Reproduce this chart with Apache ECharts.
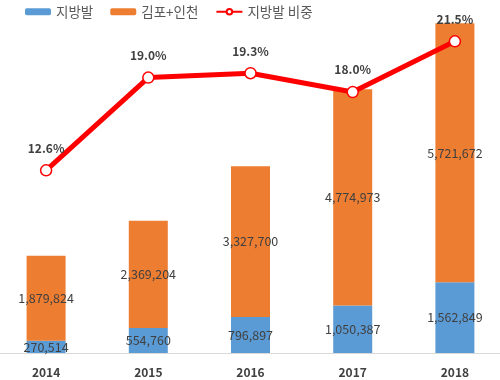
<!DOCTYPE html>
<html><head><meta charset="utf-8">
<script src="https://cdn.jsdelivr.net/npm/echarts@6/dist/echarts.min.js"></script>
<style>html,body{margin:0;padding:0;background:#fff;overflow:hidden;width:500px;height:380px;position:relative}#c{width:511px;height:380px;position:absolute;left:-5px;top:0}</style>
</head><body><div id="c"></div>
<script>
const categories = ['2014','2015','2016','2017','2018'];
const regional = [270514, 554760, 796897, 1050387, 1562849];
const gimpoIncheon = [1879824, 2369204, 3327700, 4774973, 5721672];
const regionalShare = [12.6, 19.0, 19.3, 18.0, 21.5];
const seriesNames = ['지방발', '김포+인천', '지방발 비중'];

const font = '"Malgun Gothic","Noto Sans CJK KR","Noto Sans",sans-serif';
const chart = echarts.init(document.getElementById('c'));
const fmt = v => v.toLocaleString('en-US');
chart.setOption({
  animation: false,
  textStyle: {fontFamily: font},
  legend: {
    top: 0, left: 25, itemWidth: 26, itemHeight: 7, itemGap: 17,
    textStyle: {fontSize: 13.5, color: '#595959', fontFamily: font},
    data: seriesNames
  },
  grid: {left: 0, right: 0, top: 0, bottom: 27},
  xAxis: {
    type: 'category', data: categories,
    axisLine: {lineStyle: {color: '#d9d9d9', width: 1}},
    axisTick: {show: false},
    axisLabel: {fontWeight: 'bold', fontSize: 12, color: '#404040', margin: 13, fontFamily: font}
  },
  yAxis: [
    {type: 'value', min: 0, max: 7800000, show: false, splitLine: {show: false}},
    {type: 'value', min: 0, max: 24.35, show: false, splitLine: {show: false}}
  ],
  series: [
    {
      name: seriesNames[0], type: 'bar', stack: 'a', data: regional, barWidth: 39,
      itemStyle: {color: '#5B9BD5'},
      label: {show: true, position: 'inside', formatter: p => fmt(p.value), color: '#404040', fontSize: 12.5, fontFamily: font}
    },
    {
      name: seriesNames[1], type: 'bar', stack: 'a', data: gimpoIncheon, barWidth: 39,
      itemStyle: {color: '#ED7D31'},
      label: {show: true, position: 'inside', formatter: p => fmt(p.value), color: '#404040', fontSize: 12.5, fontFamily: font}
    },
    {
      name: seriesNames[2], type: 'line', yAxisIndex: 1, data: regionalShare,
      lineStyle: {color: '#FF0000', width: 5},
      itemStyle: {color: '#fff', borderColor: '#FF0000', borderWidth: 1.5},
      symbol: 'circle', symbolSize: 11, z: 5,
      label: {show: true, position: 'top', distance: 10, formatter: p => p.value.toFixed(1) + '%', fontWeight: 'bold', color: '#404040', fontSize: 12, fontFamily: font}
    }
  ]
});
</script></body></html>
